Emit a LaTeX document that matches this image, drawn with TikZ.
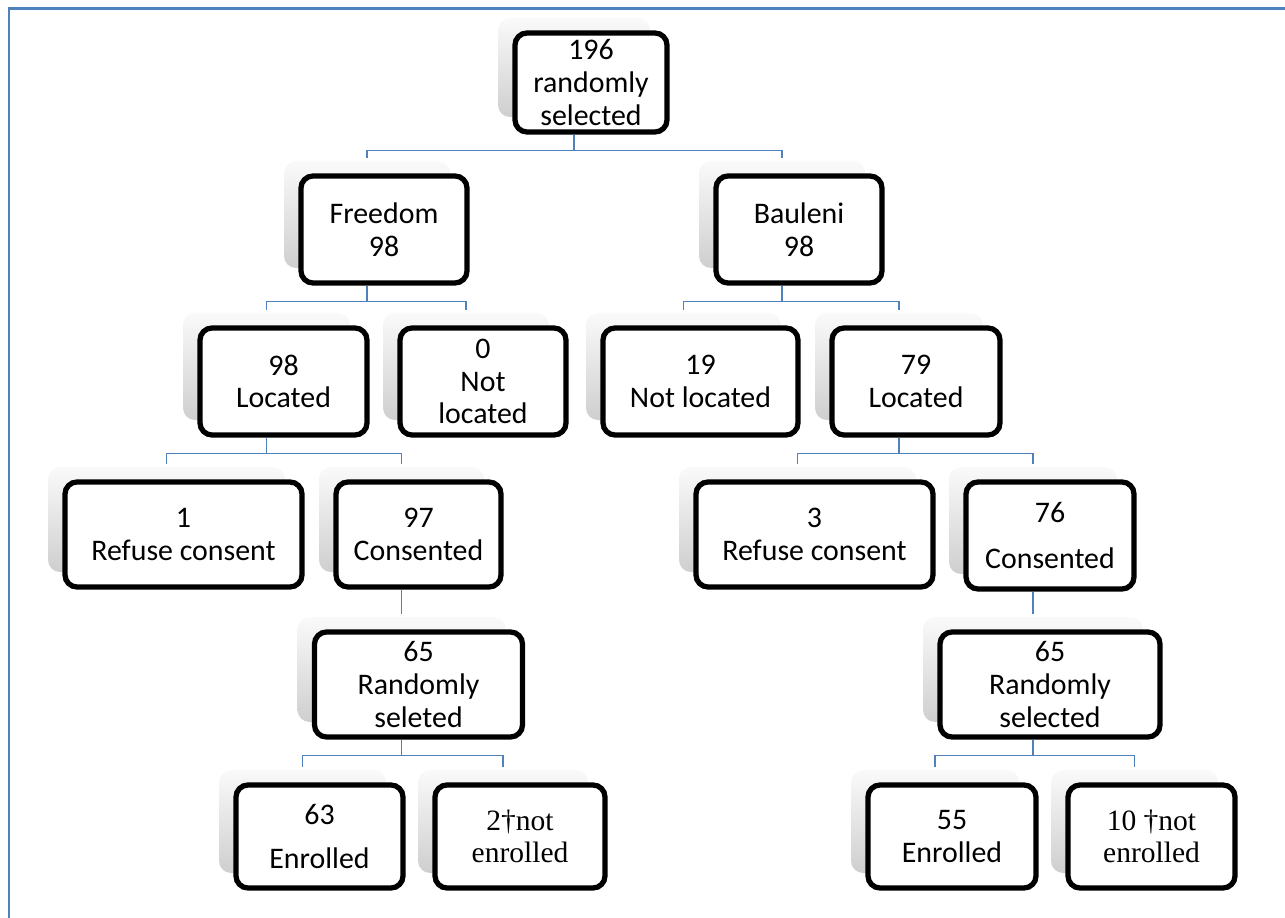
\documentclass[tikz,border=0pt]{standalone}
\usepackage{fontspec}
\setmainfont{Carlito}
\newfontfamily\serifbox{Liberation Serif}
\usetikzlibrary{calc,shadows}
\definecolor{lineblue}{RGB}{79,129,189}

\tikzset{
  box/.style={draw=black, line width=3pt, rounded corners=0.24cm, fill=white,
    align=center, inner sep=0pt, font=\fontsize{17}{18.6}\selectfont,
    general shadow={shadow xshift=-0.34cm, shadow yshift=0.3cm,
      top color=gray!4, bottom color=gray!38}},
  wh/.style 2 args={minimum width=#1*0.02cm, minimum height=#2*0.02cm},
  tbox/.style={box, font=\serifbox\fontsize{16.8}{18.6}\selectfont},
  link/.style={draw=lineblue, line width=0.9pt}
}
% elbow link from the parent to the child's back panel
\newcommand\branch[2]{\draw[link] ($(#1.south)+(-17,0)$) -- ++(0,16) -| ($(#2.north)+(-17,-15)$);}

\begin{document}
\begin{tikzpicture}[x=0.02cm, y=-0.02cm]
  \useasboundingbox (0,0) rectangle (1285,918);
  \draw[lineblue, line width=1.7pt] (9,918) -- (9,9) -- (1285,9);

  % level 0 and 1
  \node[box, wh={152}{99}] (all) at (591,82.5) {196\\randomly\\selected};
  \node[box, wh={166}{107}] (free) at (384,229.5) {Freedom\\98};
  \node[box, wh={166}{107}] (baul) at (799,229.5) {Bauleni\\98};

  % located or not
  \node[box, wh={167}{107}] (freeloc) at (283.5,381.5) {98\\Located};
  \node[box, wh={166}{107}] (freenot) at (483,381.5) {0\\Not\\located};
  \node[box, wh={195}{107}] (baulnot) at (700.5,381.5) {19\\Not located};
  \node[box, wh={168}{107}] (baulloc) at (916,381.5) {79\\Located};

  % consent
  \node[box, wh={237}{105}] (freeref) at (183.5,534.5) {1\\Refuse consent};
  \node[box, wh={165}{105}] (freecon) at (418.5,534.5) {97\\Consented};
  \node[box, wh={237}{105}] (baulref) at (814.5,534.5) {3\\Refuse consent};
  \node[box, wh={168}{107}] (baulcon) at (1050,535.5) {76\\[8pt]Consented};

  % random selection
  \node[box, wh={208}{105}] (freeran) at (418.5,684.5) {65\\Randomly\\seleted};
  \node[box, wh={220}{105}] (baulran) at (1050,684.5) {65\\Randomly\\selected};

  % enrolment
  \node[box, wh={167}{103}] (freeenr) at (319.5,836.5) {63\\[6pt]Enrolled};
  \node[tbox, wh={170}{103}] (freenen) at (520,836.5) {2†not\\enrolled};
  \node[box, wh={168}{103}] (baulenr) at (952,836.5) {55\\Enrolled};
  \node[tbox, wh={167}{103}] (baulnen) at (1151.5,836.5) {10 †not\\enrolled};

  \branch{all}{free}
  \branch{all}{baul}
  \branch{free}{freeloc}
  \branch{free}{freenot}
  \branch{baul}{baulnot}
  \branch{baul}{baulloc}
  \branch{freeloc}{freeref}
  \branch{freeloc}{freecon}
  \branch{baulloc}{baulref}
  \branch{baulloc}{baulcon}
  \branch{freecon}{freeran}
  \branch{baulcon}{baulran}
  \branch{freeran}{freeenr}
  \branch{freeran}{freenen}
  \branch{baulran}{baulenr}
  \branch{baulran}{baulnen}
\end{tikzpicture}
\end{document}
